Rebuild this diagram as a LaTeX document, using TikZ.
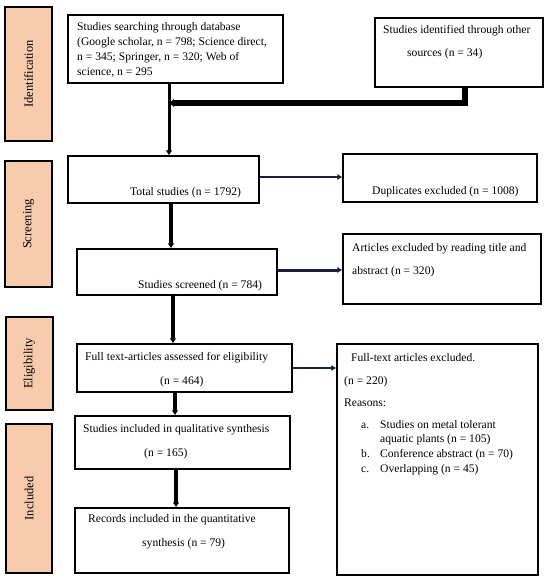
\documentclass[tikz,border=0pt]{standalone}
\usepackage{fontspec}
\setmainfont{Liberation Serif}
\usetikzlibrary{fit,arrows.meta}
\definecolor{salmon}{RGB}{248,203,173}
\definecolor{navy}{RGB}{22,32,62}
\tikzset{
  box/.style={draw=black, line width=1.4pt, inner sep=0pt, fill=white},
  phase/.style={draw=black, line width=1.4pt, inner sep=0pt, fill=salmon},
  phasetext/.style={rotate=90, font=\fontsize{12.5}{14}\selectfont, inner sep=0pt},
  txt/.style={anchor=base west, inner sep=0pt, font=\fontsize{11.6}{14}\selectfont},
  down/.style={draw=black, line width=3.2pt, -{Latex[length=5pt,width=7pt]}},
  side/.style={draw=navy, line width=2.5pt, -{Latex[length=5pt,width=6.5pt]}},
}
\begin{document}
\begin{tikzpicture}[x=1pt,y={(0,-1pt)}]
\useasboundingbox (0,0) rectangle (550,583);
% phase bars
\node[phase, fit={(5,7) (52,141)}] (pI) {};
\node[phasetext] (tI) at (pI.center) {Identification};
\node[phase, fit={(5,161) (52,287)}] (pS) {};
\node[phasetext] (tS) at (pS.center) {Screening};
\node[phase, fit={(6,317) (53,410)}] (pE) {};
\node[phasetext] (tE) at (pE.center) {Eligibility};
\node[phase, fit={(6,424) (52,573)}] (pN) {};
\node[phasetext] (tN) at (pN.center) {Included};
% boxes
\node[box, fit={(68,15) (283,83)}] (A) {};
\node[box, fit={(375,18) (543,87)}] (B) {};
\node[box, fit={(68,156) (259,203)}] (T) {};
\node[box, fit={(343,154) (537,202)}] (D) {};
\node[box, fit={(77,249) (277,295)}] (S) {};
\node[box, fit={(343,234) (541,304)}] (X) {};
\node[box, fit={(77,344) (292,392)}] (F) {};
\node[box, fit={(337,344) (538,575)}] (FX) {};
\node[box, fit={(75,416) (290,469)}] (Q) {};
\node[box, fit={(75,508) (289,573)}] (R) {};
% texts
\node[txt] (a1) at (77,31) {Studies searching through database};
\node[txt] (a2) at (77,46) {(Google scholar, n = 798; Science direct,};
\node[txt] (a3) at (77,61) {n = 345; Springer, n = 320; Web of};
\node[txt] (a4) at (77,76) {science, n = 295};
\node[txt] (b1) at (383,34) {Studies identified through other};
\node[txt] (b2) at (407,57) {sources (n = 34)};
\node[txt] (t1) at (130,195) {Total studies (n = 1792)};
\node[txt] (d1) at (372,194) {Duplicates excluded (n = 1008)};
\node[txt] (s1) at (138,288) {Studies screened (n = 784)};
\node[txt] (x1) at (352,251) {Articles excluded by reading title and};
\node[txt] (x2) at (352,274) {abstract (n = 320)};
\node[txt] (f1) at (85,360) {Full text-articles assessed for eligibility};
\node[txt] (f2) at (160,384) {(n = 464)};
\node[txt] (fx1) at (351,361) {Full-text articles excluded.};
\node[txt] (fx2) at (344,384) {(n = 220)};
\node[txt] (fx3) at (344,406) {Reasons:};
\node[txt] (la) at (361,428) {a.};
\node[txt] (la1) at (380,428) {Studies on metal tolerant};
\node[txt] (la2) at (380,442) {aquatic plants (n = 105)};
\node[txt] (lb) at (361,457) {b.};
\node[txt] (lb1) at (380,457) {Conference abstract (n = 70)};
\node[txt] (lc) at (361,472) {c.};
\node[txt] (lc1) at (380,472) {Overlapping (n = 45)};
\node[txt] (q1) at (83,432) {Studies included in qualitative synthesis};
\node[txt] (q2) at (144,456) {(n = 165)};
\node[txt] (r1) at (88,522) {Records included in the quantitative};
\node[txt] (r2) at (142,546) {synthesis (n = 79)};
% connectors
\coordinate (J) at (169,103);
\draw[down, line width=3pt] (A.south -| J) -- (T.north -| J);
\draw[draw=black, line width=5.5pt, -{Latex[length=5pt,width=9pt]}] (B.south -| 465,0) |- (J);
\draw[side] (T.east |- 0,177) -- (D.west |- 0,177);
\draw[down] (T.south -| 171,0) -- (S.north -| 171,0);
\draw[side, line width=3pt] (S.east |- 0,270) -- (X.west |- 0,270);
\draw[down, line width=3.8pt] (S.south -| 173,0) -- (F.north -| 173,0);
\draw[side] (F.east |- 0,368) -- (FX.west |- 0,368);
\draw[down, line width=3.8pt] (F.south -| 175,0) -- (Q.north -| 175,0);
\draw[down, line width=3.5pt] (Q.south -| 176,0) -- (R.north -| 176,0);
\end{tikzpicture}
\end{document}
